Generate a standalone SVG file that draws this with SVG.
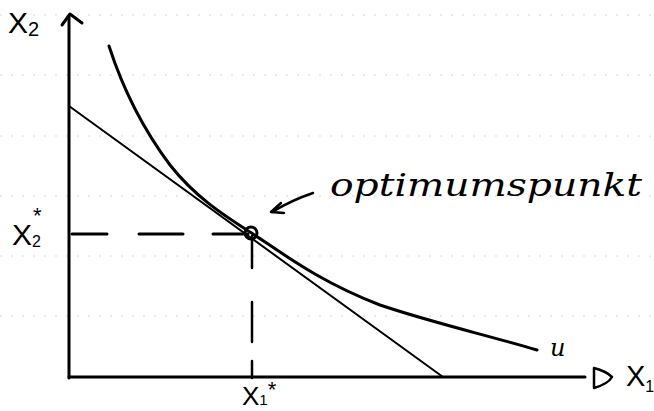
<svg xmlns="http://www.w3.org/2000/svg" width="654" height="411" viewBox="0 0 654 411">
<style>
.ink{fill:none;stroke:#000;stroke-linecap:round;stroke-linejoin:round}
.hand{font-family:"DejaVu Serif","Liberation Serif",serif;font-style:italic;fill:#000}
.lbl{font-family:"Liberation Sans","DejaVu Sans",sans-serif;fill:#000}
.rule{stroke:#d6d6d6;stroke-width:1;stroke-dasharray:2 9;fill:none}
</style>
<rect width="654" height="411" fill="#fff"/>
<g id="ruling">
<line class="rule" x1="0" y1="15" x2="654" y2="15"/>
<line class="rule" x1="0" y1="75" x2="654" y2="75"/>
<line class="rule" x1="0" y1="136" x2="654" y2="136"/>
<line class="rule" x1="0" y1="196" x2="654" y2="196"/>
<line class="rule" x1="0" y1="256" x2="654" y2="256"/>
<line class="rule" x1="0" y1="316" x2="654" y2="316"/>
</g>
<g id="axes">
<path class="ink" stroke-width="3" d="M69,378 L69,16"/>
<path class="ink" stroke-width="3" d="M62,25 L70,14 L82,23"/>
<path class="ink" stroke-width="3" d="M69,377 L585,377"/>
<path class="ink" stroke-width="2.5" d="M594,368 L594,388 Q608,384 612,377 Q606,371 594,368"/>
</g>
<g id="connectors">
<path id="budget-line" class="ink" stroke-width="2" d="M69,106 L443,377"/>
<path id="indifference-curve" class="ink" stroke-width="3" d="M109,46 C120,80 140,125 170,165 C195,197 225,216 250,232 C285,255 320,282 380,305 C430,322 490,336 537,350"/>
<path id="dash-h" class="ink" stroke-width="3" stroke-linecap="butt" d="M72,234 L107,234 M139,234 L183,234 M213,234 L248,234"/>
<path id="dash-v" class="ink" stroke-width="2.5" stroke-linecap="butt" d="M252,236 L252,268 M252,302 L252,342 M252,361 L252,378"/>
<path id="pointer" class="ink" stroke-width="2.5" d="M313,193 Q292,200 272,212"/>
<path id="pointer-head" class="ink" stroke-width="2.5" d="M281,203 L271,212 L284,213"/>
</g>
<g id="optimum">
<circle cx="251" cy="233" r="6" fill="none" stroke="#000" stroke-width="3"/>
</g>
<g id="labels">
<text class="lbl" x="8" y="33" font-size="30">X<tspan font-size="20" dy="3">2</tspan></text>
<text class="lbl" x="12" y="245" font-size="30">X<tspan font-size="16" dy="2">2</tspan><tspan font-size="22" dx="-8" dy="-24">*</tspan></text>
<text class="lbl" x="242" y="405" font-size="26">X<tspan font-size="15">1</tspan><tspan font-size="22" dy="-8">*</tspan></text>
<text class="lbl" x="626" y="386" font-size="29">X<tspan font-size="16" dy="6">1</tspan></text>
<text class="hand" x="550" y="356" font-size="24">u</text>
<text class="hand" x="330" y="196" font-size="32" textLength="312" lengthAdjust="spacingAndGlyphs">optimumspunkt</text>
</g>
</svg>
